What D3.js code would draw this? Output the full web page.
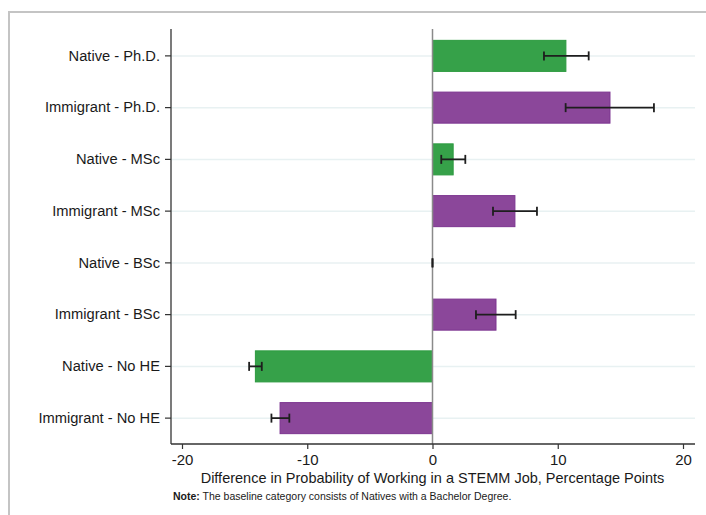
<!DOCTYPE html>
<html>
<head>
<meta charset="utf-8">
<script src="https://cdn.jsdelivr.net/npm/d3@7"></script>
<style>
  html, body { margin: 0; padding: 0; background: #fff; }
  svg { display: block; font-family: "Liberation Sans", Arial, sans-serif; }
</style>
</head>
<body>
<svg id="chart" width="706" height="515"></svg>
<script>
// Groups, top to bottom
const categories = [
  "Native - Ph.D.", "Immigrant - Ph.D.",
  "Native - MSc", "Immigrant - MSc",
  "Native - BSc", "Immigrant - BSc",
  "Native - No HE", "Immigrant - No HE"
];
const groupType = ["Native", "Immigrant", "Native", "Immigrant", "Native", "Immigrant", "Native", "Immigrant"];
// Point estimates (percentage points, relative to Natives with a Bachelor degree)
const estimates = [10.65, 14.17, 1.65, 6.58, 0, 5.07, -14.14, -12.17];
// 95% confidence interval bounds
const ciLow  = [8.9, 10.63, 0.7, 4.83, 0, 3.47, -14.64, -12.86];
const ciHigh = [12.47, 17.68, 2.62, 8.34, 0, 6.64, -13.63, -11.43];
const xTicks = [-20, -10, 0, 10, 20];
const xTickLabels = ["-20", "-10", "0", "10", "20"];

const colors = {
  Native:    { fill: "#36a149", stroke: "#2c9a3f" },
  Immigrant: { fill: "#8b479a", stroke: "#7c3490" }
};

const svg = d3.select("#chart");
const plotLeft = 171, plotRight = 695, plotTop = 30, plotBottom = 444;

const x = d3.scaleLinear().domain([-20, 20]).range([182, 683]);
const y = d3.scaleBand().domain(categories).range([plotTop, plotBottom])
  .paddingInner(0.4).paddingOuter(0.2);

const rows = categories.map((c, i) => ({
  cat: c, type: groupType[i], v: estimates[i], lo: ciLow[i], hi: ciHigh[i]
}));

// outer frame (left and top edges)
svg.append("path")
  .attr("d", `M9,515 V12 H706`)
  .attr("fill", "none").attr("stroke", "#c4c4c4").attr("stroke-width", 2);

// horizontal gridlines at each category
svg.append("g").selectAll("line").data(categories).join("line")
  .attr("x1", plotLeft).attr("x2", plotRight)
  .attr("y1", d => y(d) + y.bandwidth() / 2).attr("y2", d => y(d) + y.bandwidth() / 2)
  .attr("stroke", "#e8f1f2").attr("stroke-width", 1.5);

// bars
svg.append("g").selectAll("rect").data(rows.filter(r => r.v !== 0)).join("rect")
  .attr("x", d => x(Math.min(0, d.v)))
  .attr("width", d => Math.abs(x(d.v) - x(0)))
  .attr("y", d => y(d.cat))
  .attr("height", y.bandwidth())
  .attr("fill", d => colors[d.type].fill)
  .attr("stroke", d => colors[d.type].stroke)
  .attr("stroke-width", 1);

// zero reference line
svg.append("line")
  .attr("x1", x(0)).attr("x2", x(0)).attr("y1", plotTop - 1).attr("y2", plotBottom)
  .attr("stroke", "#8a8a8a").attr("stroke-width", 1.5);

// confidence intervals
const cap = 4.5;
const eb = svg.append("g").attr("stroke", "#1e1e1e").attr("stroke-width", 1.8);
rows.forEach(r => {
  const cy = y(r.cat) + y.bandwidth() / 2;
  eb.append("line").attr("x1", x(r.lo)).attr("x2", x(r.hi)).attr("y1", cy).attr("y2", cy);
  eb.append("line").attr("x1", x(r.lo)).attr("x2", x(r.lo)).attr("y1", cy - cap).attr("y2", cy + cap);
  eb.append("line").attr("x1", x(r.hi)).attr("x2", x(r.hi)).attr("y1", cy - cap).attr("y2", cy + cap);
});

// y axis
const yAxis = svg.append("g").attr("transform", `translate(${plotLeft},0)`)
  .call(d3.axisLeft(y).tickSize(6).tickPadding(5));
yAxis.select(".domain").attr("d", `M0,${plotTop - 1}V${plotBottom}`).attr("stroke", "#333").attr("stroke-width", 1.3);
yAxis.selectAll(".tick line").attr("stroke", "#333").attr("stroke-width", 1.2);
yAxis.selectAll(".tick text").attr("font-size", 14.7).attr("fill", "#1a1a1a")
  .attr("font-family", "Liberation Sans, Arial, sans-serif");

// x axis
const xAxis = svg.append("g").attr("transform", `translate(0,${plotBottom})`)
  .call(d3.axisBottom(x).tickValues(xTicks)
    .tickFormat((d, i) => xTickLabels[i]).tickSize(5).tickPadding(5));
xAxis.select(".domain").attr("d", `M${plotLeft},0H${plotRight}`).attr("stroke", "#333").attr("stroke-width", 1.3);
xAxis.selectAll(".tick line").attr("stroke", "#333").attr("stroke-width", 1.2);
xAxis.selectAll(".tick text").attr("font-size", 15).attr("fill", "#1a1a1a")
  .attr("font-family", "Liberation Sans, Arial, sans-serif");

// axis title
svg.append("text")
  .attr("x", x(0)).attr("y", 483)
  .attr("text-anchor", "middle").attr("font-size", 14.5).attr("fill", "#1a1a1a")
  .text("Difference in Probability of Working in a STEMM Job, Percentage Points");

// note
const note = svg.append("text").attr("x", 173).attr("y", 500)
  .attr("font-size", 10.5).attr("fill", "#1a1a1a");
note.append("tspan").attr("font-weight", "bold").text("Note:");
note.append("tspan").text(" The baseline category consists of Natives with a Bachelor Degree.");
</script>
</body>
</html>
